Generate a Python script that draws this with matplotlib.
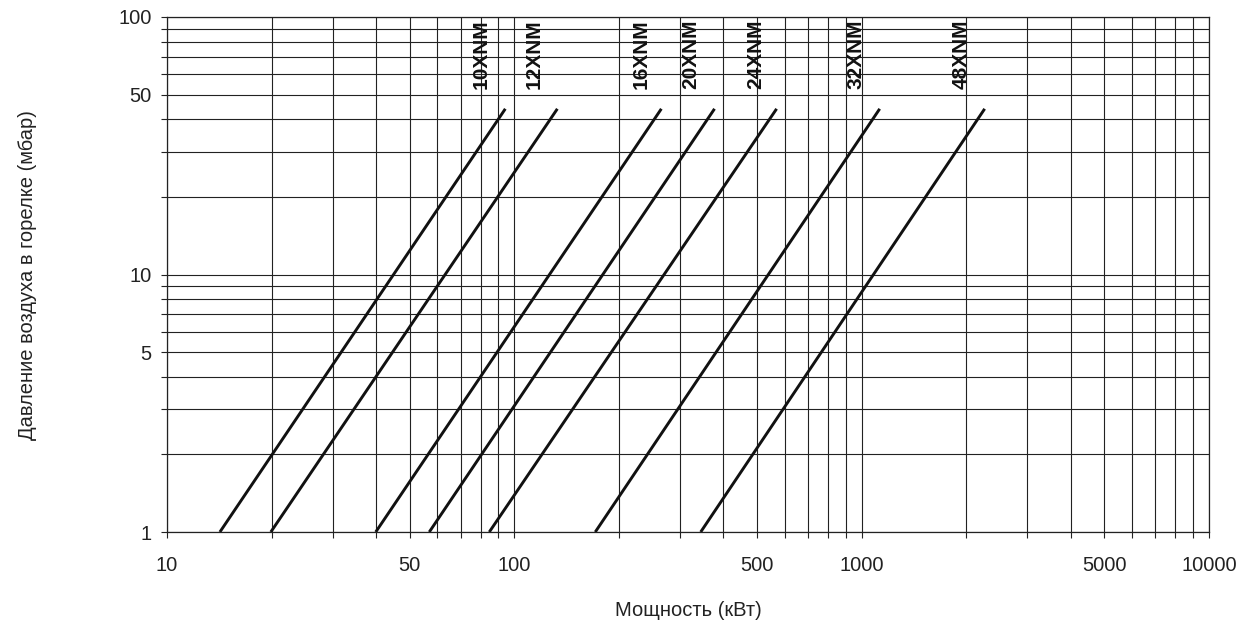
import matplotlib
matplotlib.use("Agg")
import matplotlib.pyplot as plt
from matplotlib.ticker import FixedLocator, NullFormatter, FixedFormatter

plt.rcParams['font.family'] = ['Liberation Sans', 'DejaVu Sans']

# Data
models = ["10XNM", "12XNM", "16XNM", "20XNM", "24XNM", "32XNM", "48XNM"]
power_at_min = [14.2, 19.9, 39.9, 56.9, 84.7, 171, 344]      # kW at 1 mbar
power_at_max = [94.2, 133, 265, 377, 569, 1127, 2260]        # kW at top
pressure_min = 1.0
pressure_max = 44.0
label_x = [80, 114, 231, 322, 495, 960, 1930]

x_tick_vals = [10, 50, 100, 500, 1000, 5000, 10000]
x_tick_labels = ["10", "50", "100", "500", "1000", "5000", "10000"]
y_tick_vals = [1, 5, 10, 50, 100]
y_tick_labels = ["1", "5", "10", "50", "100"]

fig = plt.figure(figsize=(12.47, 6.32), dpi=100)
ax = fig.add_axes([167/1247, 1-532/632, (1209-167)/1247, (532-17)/632])
ax.set_xscale('log')
ax.set_yscale('log')
ax.set_xlim(10, 10000)
ax.set_ylim(1, 100)

xgrid = [m * 10**e for e in range(1, 4) for m in range(1, 10)] + [10000]
ygrid = [m * 10**e for e in range(0, 2) for m in range(1, 10)] + [100]
ax.xaxis.set_major_locator(FixedLocator(xgrid))
ax.yaxis.set_major_locator(FixedLocator(ygrid))
ax.xaxis.set_minor_locator(FixedLocator([]))
ax.yaxis.set_minor_locator(FixedLocator([]))
ax.xaxis.set_major_formatter(FixedFormatter(
    [x_tick_labels[x_tick_vals.index(v)] if v in x_tick_vals else "" for v in xgrid]))
ax.yaxis.set_major_formatter(FixedFormatter(
    [y_tick_labels[y_tick_vals.index(v)] if v in y_tick_vals else "" for v in ygrid]))

ax.grid(True, which='major', color='#222222', linewidth=0.8)
ax.tick_params(axis='both', which='major', length=4, width=0.8, color='#222222',
               labelsize=14.5, labelcolor='#222222')
ax.tick_params(axis='x', pad=13)
ax.tick_params(axis='y', pad=7)
for s in ax.spines.values():
    s.set_color('#222222')
    s.set_linewidth(0.9)

for name, x0, x1, lx in zip(models, power_at_min, power_at_max, label_x):
    ax.plot([x0, x1], [pressure_min, pressure_max], color='#111111', linewidth=2.1,
            solid_capstyle='butt')
    ax.text(lx, 98, name, rotation=90, ha='center', va='top', fontsize=15,
            fontweight='bold', color='#111111')

fig.text(688/1247, 1-610/632, "Мощность (кВт)", ha='center', va='center',
         fontsize=14.5, color='#222222')
fig.text(28/1247, 1-275/632, "Давление воздуха в горелке (мбар)", ha='center',
         va='center', rotation=90, fontsize=14.5, color='#222222')

fig.savefig("out.png", dpi=100)
